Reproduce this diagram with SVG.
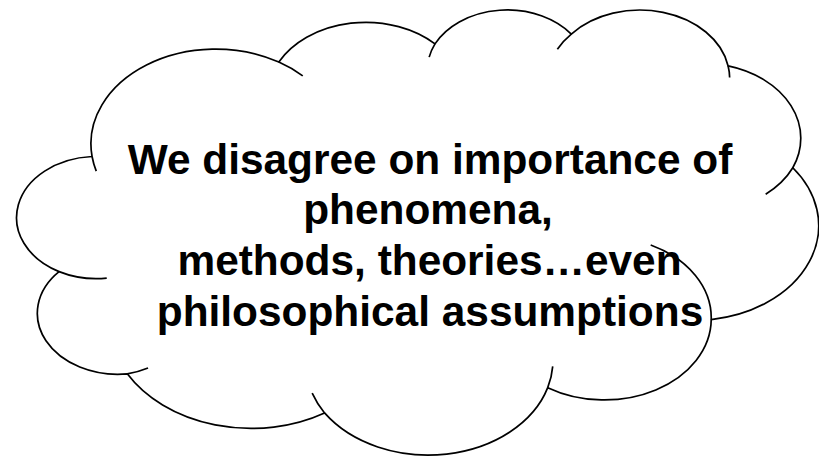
<svg xmlns="http://www.w3.org/2000/svg" width="819" height="456" viewBox="0 0 819 456">
  <style>
    .outline { fill: #ffffff; stroke: #000000; stroke-width: 1.7; stroke-linejoin: round; }
    .inner { fill: none; stroke: #000000; stroke-width: 1.7; stroke-linecap: butt; }
    .label { font-family: "Liberation Sans", Arial, sans-serif; font-weight: bold; font-size: 42.4px; fill: #000000; text-anchor: middle; }
  </style>
  <rect x="0" y="0" width="819" height="456" fill="#ffffff"/>
  <g id="cloud">
    <path class="outline" d="M 92.07,156.51
      A 124.80 94.66 0 0 1 278.82,62.08
      A 98.55 74.85 0 0 1 434.99,43.85
      A 80.67 61.23 0 0 1 571.31,34.05
      A 89.76 67.93 0 0 1 728.12,65.93
      A 98.55 74.91 0 0 1 792.80,167.73
      A 125.20 94.97 0 0 1 711.23,319.59
      A 106.91 81.03 0 0 1 547.72,387.68
      A 124.78 94.91 0 0 1 324.56,412.92
      A 142.67 108.59 0 0 1 127.28,373.84
      A 80.57 60.96 0 0 1 59.06,271.65
      A 80.30 61.23 0 0 1 92.07,156.51 Z"/>
    <path class="inner" d="M 106.73,278.12 A 80.30 61.23 0 0 1 59.06,271.65"/>
    <path class="inner" d="M 148.03,367.96 A 80.57 60.96 0 0 1 127.28,373.84"/>
    <path class="inner" d="M 324.56,412.92 A 124.78 94.91 0 0 1 312.17,393.20"/>
    <path class="inner" d="M 552.72,366.44 A 124.78 94.91 0 0 1 547.72,387.68"/>
    <path class="inner" d="M 650.70,244.93 A 106.91 81.03 0 0 1 711.23,319.59"/>
    <path class="inner" d="M 792.80,167.73 A 98.55 74.91 0 0 1 765.67,194.20"/>
    <path class="inner" d="M 728.12,65.93 A 89.76 67.93 0 0 1 729.64,77.40"/>
    <path class="inner" d="M 557.36,49.21 A 89.76 67.93 0 0 1 571.31,34.05"/>
    <path class="inner" d="M 429.17,57.12 A 80.67 61.23 0 0 1 434.99,43.85"/>
    <path class="inner" d="M 278.82,62.08 A 124.80 94.66 0 0 1 302.74,75.86"/>
    <path class="inner" d="M 96.27,171.13 A 124.80 94.66 0 0 1 92.07,156.51"/>
    <text class="label" x="430" y="173.5">We disagree on importance of</text>
    <text class="label" x="428" y="224.3">phenomena,</text>
    <text class="label" x="429.5" y="275.1">methods, theories…even</text>
    <text class="label" x="430" y="326">philosophical assumptions</text>
  </g>
</svg>
